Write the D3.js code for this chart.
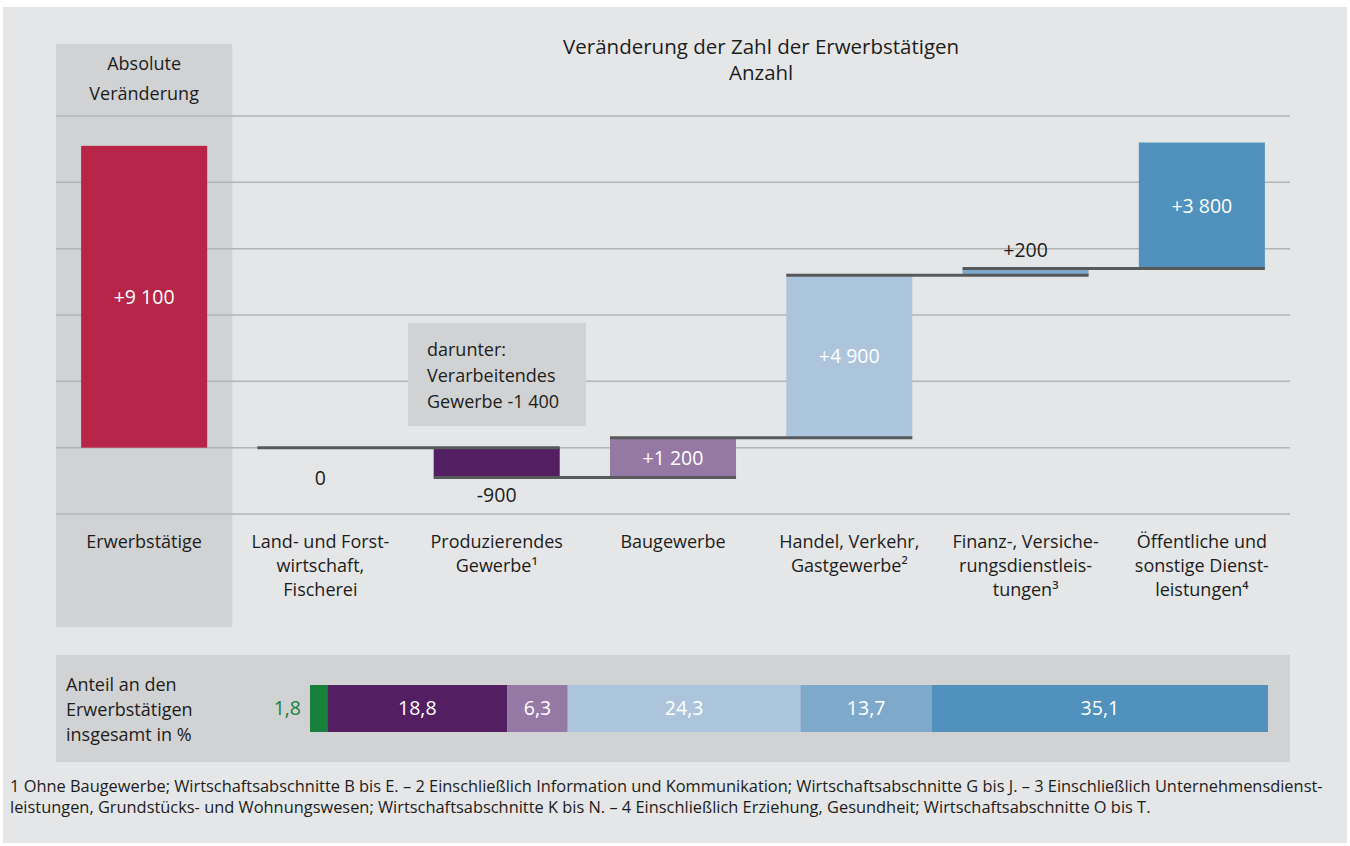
<!DOCTYPE html>
<html>
<head>
<meta charset="utf-8">
<script src="https://cdn.jsdelivr.net/npm/d3@7"></script>
<style>
  body { margin: 0; background: #fff; }
  svg { display: block; font-family: "Open Sans", sans-serif; }
</style>
</head>
<body>
<script>
// categories and values
var categories = ["Erwerbstätige", "Land", "Produzierendes", "Baugewerbe", "Handel", "Finanz", "Oeffentliche"];
var catLabels = [
  ["Erwerbstätige"],
  ["Land- und Forst-", "wirtschaft,", "Fischerei"],
  ["Produzierendes", "Gewerbe¹"],
  ["Baugewerbe"],
  ["Handel, Verkehr,", "Gastgewerbe²"],
  ["Finanz-, Versiche-", "rungsdienstleis-", "tungen³"],
  ["Öffentliche und", "sonstige Dienst-", "leistungen⁴"]
];
var total = 9100;
var changes = [0, -900, 1200, 4900, 200, 3800];
var changeLabels = ["0", "-900", "+1 200", "+4 900", "+200", "+3 800"];
var shares = [1.8, 18.8, 6.3, 24.3, 13.7, 35.1];
var shareLabels = ["1,8", "18,8", "6,3", "24,3", "13,7", "35,1"];
var colors = ["#17803a", "#541f62", "#9579a5", "#adc5dc", "#7fa9cb", "#5091bd"];
var yTicks = [-2000, 0, 2000, 4000, 6000, 8000, 10000];

function init () {
  'use strict';
  var w = 1350;
  var h = 846;

  var svg = d3.select("body")
    .append("svg")
    .attr("width", w)
    .attr("height", h);

  // backgrounds
  svg.append("rect")
    .attr("x", 3).attr("y", 7)
    .attr("width", 1344).attr("height", 836)
    .attr("fill", "#e5e6e8");

  var xScale = d3.scaleBand()
    .domain(categories)
    .range([56, 1290])
    .paddingInner(0.285)
    .paddingOuter(0.1425);

  var yScale = d3.scaleLinear()
    .domain([-2000, 10000])
    .range([514, 116]);

  var step = xScale.step();
  var colLeft = xScale(categories[0]) - xScale.paddingOuter() * step;

  svg.append("rect")
    .attr("x", colLeft).attr("y", 44)
    .attr("width", step).attr("height", 583)
    .attr("fill", "#d1d2d4");

  // gridlines
  svg.selectAll("line.grid")
    .data(yTicks)
    .enter()
    .append("line")
    .attr("class", "grid")
    .attr("x1", 56)
    .attr("x2", 1290)
    .attr("y1", function(d) { return yScale(d); })
    .attr("y2", function(d) { return yScale(d); })
    .attr("stroke", "#b3b4b6")
    .attr("stroke-width", 1.5);

  // titles
  svg.append("text")
    .attr("x", (colLeft + step + 1290) / 2).attr("y", 54)
    .attr("text-anchor", "middle")
    .attr("font-size", 20.5).attr("fill", "#1d1d1b")
    .text("Veränderung der Zahl der Erwerbstätigen");
  svg.append("text")
    .attr("x", (colLeft + step + 1290) / 2).attr("y", 80)
    .attr("text-anchor", "middle")
    .attr("font-size", 20.5).attr("fill", "#1d1d1b")
    .text("Anzahl");

  var cx0 = xScale(categories[0]) + xScale.bandwidth() / 2;
  svg.append("text")
    .attr("x", cx0).attr("y", 70)
    .attr("text-anchor", "middle")
    .attr("font-size", 18).attr("fill", "#1d1d1b")
    .text("Absolute");
  svg.append("text")
    .attr("x", cx0).attr("y", 100)
    .attr("text-anchor", "middle")
    .attr("font-size", 18).attr("fill", "#1d1d1b")
    .text("Veränderung");

  // total bar
  svg.append("rect")
    .attr("x", xScale(categories[0]))
    .attr("y", yScale(total))
    .attr("width", xScale.bandwidth())
    .attr("height", yScale(0) - yScale(total))
    .attr("fill", "#b72649");
  svg.append("text")
    .attr("x", cx0)
    .attr("y", (yScale(total) + yScale(0)) / 2 + 7)
    .attr("text-anchor", "middle")
    .attr("font-size", 19.5).attr("fill", "#fff")
    .text("+9 100");

  // waterfall data
  var running = 0;
  var steps = changes.map(function(d, i) {
    var s = { start: running, end: running + d, cat: categories[i + 1], i: i };
    running += d;
    return s;
  });

  // annotation box
  svg.append("rect")
    .attr("x", 408).attr("y", 323)
    .attr("width", 178).attr("height", 103)
    .attr("fill", "#d1d2d4");
  ["darunter:", "Verarbeitendes", "Gewerbe -1 400"].forEach(function(t, i) {
    svg.append("text")
      .attr("x", 427).attr("y", 356 + i * 26)
      .attr("font-size", 18).attr("fill", "#1d1d1b")
      .text(t);
  });

  svg.selectAll("rect.step")
    .data(steps)
    .enter()
    .append("rect")
    .attr("class", "step")
    .attr("x", function(d) { return xScale(d.cat); })
    .attr("y", function(d) { return yScale(Math.max(d.start, d.end)); })
    .attr("width", xScale.bandwidth())
    .attr("height", function(d) { return Math.abs(yScale(d.start) - yScale(d.end)); })
    .attr("fill", function(d) { return colors[d.i]; });

  // connector lines
  svg.selectAll("line.conn")
    .data(steps)
    .enter()
    .append("line")
    .attr("class", "conn")
    .attr("x1", function(d) { return xScale(d.cat); })
    .attr("x2", function(d) {
      var next = categories[d.i + 2];
      return (next ? xScale(next) : xScale(d.cat)) + xScale.bandwidth();
    })
    .attr("y1", function(d) { return yScale(d.end); })
    .attr("y2", function(d) { return yScale(d.end); })
    .attr("stroke", "#58595b")
    .attr("stroke-width", 3)
    .style("display", function(d) { return d.i === steps.length - 1 ? "none" : null; });

  // value labels
  function inside(d) {
    return Math.abs(yScale(d.start) - yScale(d.end)) > 35;
  }
  svg.selectAll("text.val")
    .data(steps)
    .enter()
    .append("text")
    .attr("class", "val")
    .attr("x", function(d) { return xScale(d.cat) + xScale.bandwidth() / 2; })
    .attr("y", function(d) {
      if (inside(d)) return (yScale(d.start) + yScale(d.end)) / 2 + 7;
      if (d.end > d.start) return yScale(d.end) - 12;
      if (d.end === d.start) return yScale(d.end) + 37;
      return yScale(d.end) + 24;
    })
    .attr("text-anchor", "middle")
    .attr("font-size", 19.5)
    .attr("fill", function(d) { return inside(d) ? "#fff" : "#1d1d1b"; })
    .text(function(d) { return changeLabels[d.i]; });

  // category labels
  catLabels.forEach(function(lines, i) {
    var cx = xScale(categories[i]) + xScale.bandwidth() / 2;
    lines.forEach(function(t, j) {
      svg.append("text")
        .attr("x", cx).attr("y", 548 + j * 24)
        .attr("text-anchor", "middle")
        .attr("font-size", 18).attr("fill", "#1d1d1b")
        .text(t);
    });
  });

  // share panel
  svg.append("rect")
    .attr("x", 56).attr("y", 655)
    .attr("width", 1234).attr("height", 107)
    .attr("fill", "#d1d2d4");
  ["Anteil an den", "Erwerbstätigen", "insgesamt in %"].forEach(function(t, i) {
    svg.append("text")
      .attr("x", 66).attr("y", 691 + i * 25)
      .attr("font-size", 18).attr("fill", "#1d1d1b")
      .text(t);
  });

  var sScale = d3.scaleLinear().domain([0, 100]).range([310, 1268]);
  var cum = d3.cumsum(shares);
  var segs = shares.map(function(d, i) {
    return { x0: cum[i] - d, x1: cum[i], i: i };
  });

  svg.selectAll("rect.share")
    .data(segs)
    .enter()
    .append("rect")
    .attr("class", "share")
    .attr("x", function(d) { return sScale(d.x0); })
    .attr("y", 685)
    .attr("width", function(d) { return sScale(d.x1) - sScale(d.x0); })
    .attr("height", 47)
    .attr("fill", function(d) { return colors[d.i]; });

  svg.selectAll("text.share")
    .data(segs)
    .enter()
    .append("text")
    .attr("class", "share")
    .attr("x", function(d) {
      return d.i === 0 ? sScale(d.x0) - 9 : (sScale(d.x0) + sScale(d.x1)) / 2;
    })
    .attr("y", 715)
    .attr("text-anchor", function(d) { return d.i === 0 ? "end" : "middle"; })
    .attr("font-size", 19.5)
    .attr("fill", function(d) { return d.i === 0 ? colors[0] : "#fff"; })
    .text(function(d) { return shareLabels[d.i]; });

  // footnotes
  var notes = [
    "1 Ohne Baugewerbe; Wirtschaftsabschnitte B bis E. – 2 Einschließlich Information und Kommunikation; Wirtschaftsabschnitte G bis J. – 3 Einschließlich Unternehmensdienst-",
    "leistungen, Grundstücks- und Wohnungswesen; Wirtschaftsabschnitte K bis N. – 4 Einschließlich Erziehung, Gesundheit; Wirtschaftsabschnitte O bis T."
  ];
  notes.forEach(function(t, i) {
    svg.append("text")
      .attr("x", 10).attr("y", 792 + i * 21)
      .attr("font-size", 16.4).attr("fill", "#1d1d1b")
      .text(t);
  });
}

window.onload = init;
</script>
</body>
</html>
